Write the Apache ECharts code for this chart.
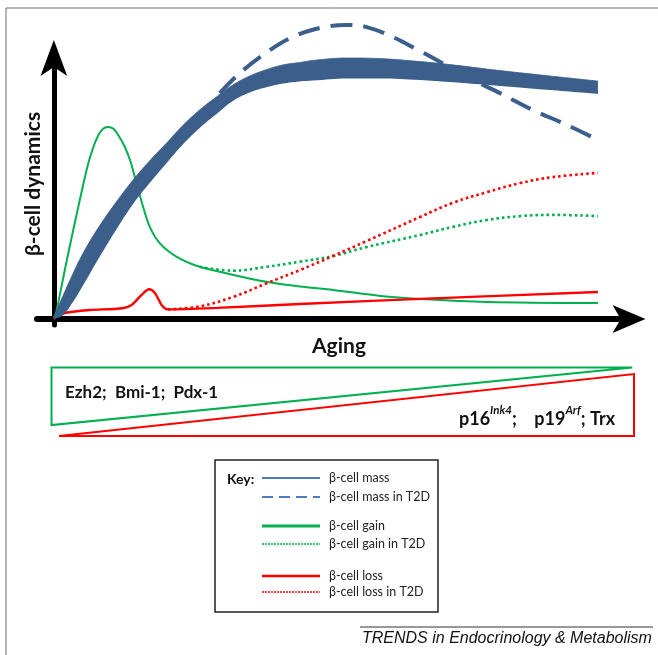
<!DOCTYPE html>
<html>
<head>
<meta charset="utf-8">
<script src="https://cdn.jsdelivr.net/npm/echarts@6/dist/echarts.min.js"></script>
<style>
  html, body { margin: 0; padding: 0; background: #fff; }
  #chart { width: 658px; height: 655px; }
</style>
</head>
<body>
<div id="chart"></div>
<script>
// Age runs from 0 (birth) to 100 (end of the sketched life span); dynamics are arbitrary units.

// beta-cell mass, drawn as a band between a lower and an upper edge
const massAge  = [0, 1.5, 2.9, 5.3, 8.5, 11.6, 14.5, 17.6, 20.8, 23.7, 26.8, 30, 32.9, 36, 39.2, 42.1, 45.2, 47.6, 53.9, 59.9, 67.3, 72.8, 82, 91.2, 100];
const massHigh = [0.7, 7, 12.7, 21.7, 31.3, 39.3, 46.2, 52.7, 58.8, 64.5, 69.7, 74.2, 78, 81, 83.2, 84.7, 85.5, 86.2, 87, 86.8, 85.8, 84.8, 82.8, 81, 79.3];
const massLow  = [0, 1, 4, 11, 21, 30.2, 38.2, 45.3, 52.2, 58.2, 63.7, 68.5, 72.7, 75.5, 77.3, 78.5, 79.2, 79.5, 80.2, 80.2, 79.7, 79, 77.7, 76.3, 75];

// beta-cell mass in type 2 diabetes
const massT2D = [[30.5, 75.3], [34.2, 82], [39.2, 89], [43.9, 94], [48.9, 97], [53.9, 98], [57.5, 97.3], [62.3, 94], [67.3, 89.3], [69.7, 87], [75.9, 80.7], [82, 75.3], [88, 69.7], [94.3, 64.7], [100, 59.7]];

// beta-cell gain (replication / neogenesis)
const betaGain = [[0, 0.5], [0.4, 2], [2.2, 18], [4.2, 35], [6.2, 51], [7.2, 57], [8.1, 61], [9, 63.3], [9.9, 64], [11, 63.3], [12.1, 60.5], [13, 57.5], [14, 53], [15.2, 45.2], [16.4, 37.4], [17.6, 30.8], [19.5, 25.2], [22.5, 20.8], [26.8, 17.4], [33, 14.7], [39.1, 12.4], [45.2, 10.8], [51.3, 9.7], [60, 7.7], [67.3, 6.7], [79.6, 5.7], [100, 5.3]];
const betaGainT2D = [[26.8, 17.4], [32.9, 16.1], [39.1, 17.4], [45.2, 19.1], [51.3, 21], [57.5, 24], [67.3, 28], [73.3, 30.7], [79.6, 33], [85.7, 34.3], [91.7, 34.7], [100, 34.3]];

// beta-cell loss (apoptosis)
const betaLoss = [[0, 0], [1, 1.5], [3.5, 2.4], [6.6, 3], [12.6, 3.6], [14.3, 4.7], [16.1, 8], [17.5, 9.9], [18.6, 8.6], [19.8, 4.7], [21, 3.2], [30, 3.7], [45.2, 5], [67.3, 6.7], [100, 9]];
const betaLossT2D = [[21, 3.2], [26.8, 4.2], [33, 7.4], [39.1, 11.9], [45.2, 16.3], [51.3, 21], [57.5, 26], [67.3, 34], [73.3, 38.7], [79.6, 42.3], [85.7, 45.3], [91.7, 47.3], [100, 48.7]];

// relative level of the regulators along the life span (outlined wedges under the plot)
const growthRegulators = [[50, 1], [99.7, 1], [0, 0.16], [0, 1], [50, 1]];
const senescenceRegulators = [[50, 0], [100, 0], [100, 0.905], [1.3, 0], [50, 0]];

const keyLabels = ['β-cell mass', 'β-cell mass in T2D', 'β-cell gain', 'β-cell gain in T2D', 'β-cell loss', 'β-cell loss in T2D'];

const BAND = '#3b5e8b';
const KEY_BLUE = '#4a7ebb';
const GREEN = '#00b050';
const RED = '#ff0000';
const CAL = 'Lato, "Open Sans", sans-serif';

// The band is a stacked pair; the value column comes first so that the stack
// is taken on the dynamics value and not on age.
const bandBase = massAge.map((a, i) => [massLow[i], a]);
const bandWidth = massAge.map((a, i) => [+(massHigh[i] - massLow[i]).toFixed(2), a]);

// key rows: [y, colour, width, dash]
const keyStyles = [
  [478, KEY_BLUE, 2, null],
  [497, KEY_BLUE, 2, [11, 6]],
  [526, GREEN, 3, null],
  [544, GREEN, 1.5, [2, 1]],
  [576, RED, 2.5, null],
  [592, RED, 1.5, [2, 1]]
];
const keyElements = [];
keyStyles.forEach((k, i) => {
  keyElements.push({
    type: 'line', shape: { x1: 262, y1: k[0], x2: 320, y2: k[0] },
    style: { stroke: k[1], lineWidth: k[2], lineDash: k[3] || null }
  });
  keyElements.push({
    type: 'text', x: 329, y: k[0],
    style: { text: keyLabels[i], font: '12.5px ' + CAL, fill: '#222', align: 'left', verticalAlign: 'middle', textAlign: 'left', textVerticalAlign: 'middle' }
  });
});

const chart = echarts.init(document.getElementById('chart'), null, { renderer: 'canvas' });

const hiddenAxis = { show: false };

chart.setOption({
  animation: false,
  backgroundColor: '#fff',
  grid: [
    { left: 37, right: 28.5, top: 58, bottom: 330 },
    { left: 51.5, right: 24, top: 367.5, bottom: 219 }
  ],
  xAxis: [
    {
      type: 'value', gridIndex: 0, min: -3.1, max: 105.8,
      axisLine: { onZero: true, symbol: ['none', 'arrow'], symbolSize: [21, 33], symbolOffset: [0, 16], lineStyle: { color: '#000', width: 6 } },
      axisTick: { show: false }, axisLabel: { show: false }, splitLine: { show: false }
    },
    Object.assign({ type: 'value', gridIndex: 1, min: 0, max: 100 }, hiddenAxis)
  ],
  yAxis: [
    {
      type: 'value', gridIndex: 0, min: -2, max: 87,
      axisLine: { onZero: true, symbol: ['none', 'arrow'], symbolSize: [20, 36], symbolOffset: [0, 18], lineStyle: { color: '#000', width: 5 } },
      axisTick: { show: false }, axisLabel: { show: false }, splitLine: { show: false }
    },
    Object.assign({ type: 'value', gridIndex: 1, min: 0, max: 1 }, hiddenAxis)
  ],
  series: [
    {
      name: 'β-cell gain', type: 'line', data: betaGain, smooth: 0.3, symbol: 'none', clip: false, z: 3,
      lineStyle: { color: GREEN, width: 2 }
    },
    {
      name: 'β-cell gain in T2D', type: 'line', data: betaGainT2D, smooth: 0.4, symbol: 'none', clip: false, z: 3,
      lineStyle: { color: GREEN, width: 2.6, type: [2.6, 3] }
    },
    {
      name: 'β-cell loss', type: 'line', data: betaLoss, smooth: 0.3, symbol: 'none', clip: false, z: 3,
      lineStyle: { color: RED, width: 2.4 }
    },
    {
      name: 'β-cell loss in T2D', type: 'line', data: betaLossT2D, smooth: 0.4, symbol: 'none', clip: false, z: 3,
      lineStyle: { color: RED, width: 2.6, type: [2.6, 3] }
    },
    {
      name: 'β-cell mass in T2D', type: 'line', data: massT2D, smooth: 0.4, symbol: 'none', clip: false, z: 4,
      lineStyle: { color: BAND, width: 4, type: [22, 11] }
    },
    {
      name: 'mass base', type: 'line', data: bandBase, encode: { x: 1, y: 0 }, stack: 'mass', smooth: 0.4, symbol: 'none', clip: false, z: 5,
      lineStyle: { opacity: 0 }
    },
    {
      name: 'β-cell mass', type: 'line', data: bandWidth, encode: { x: 1, y: 0 }, stack: 'mass', smooth: 0.4, symbol: 'none', clip: false, z: 5,
      lineStyle: { color: BAND, width: 0.8 },
      areaStyle: { color: BAND, opacity: 1 }
    },
    {
      name: 'Ezh2; Bmi-1; Pdx-1', type: 'line', xAxisIndex: 1, yAxisIndex: 1, data: growthRegulators,
      symbol: 'none', clip: false, lineStyle: { color: GREEN, width: 2, join: 'miter' }
    },
    {
      name: 'p16; p19; Trx', type: 'line', xAxisIndex: 1, yAxisIndex: 1, data: senescenceRegulators,
      symbol: 'none', clip: false, lineStyle: { color: RED, width: 2, join: 'miter' }
    }
  ],
  graphic: [
    {
      type: 'rect', z: -1, silent: true,
      shape: { x: 6, y: 8, width: 700, height: 700 },
      style: { fill: 'none', stroke: '#6b6b6b', lineWidth: 1 }
    },
    {
      type: 'text', x: 33, y: 184, rotation: Math.PI / 2,
      style: { text: 'β-cell dynamics', font: 'bold 21px ' + CAL, fill: '#111', align: 'center', verticalAlign: 'middle', textAlign: 'center', textVerticalAlign: 'middle' }
    },
    {
      type: 'text', x: 339, y: 346,
      style: { text: 'Aging', font: 'bold 21px ' + CAL, fill: '#111', align: 'center', verticalAlign: 'middle', textAlign: 'center', textVerticalAlign: 'middle' }
    },
    {
      type: 'text', x: 65, y: 393,
      style: { text: 'Ezh2;  Bmi-1;  Pdx-1', font: 'bold 17px ' + CAL, fill: '#111', align: 'left', verticalAlign: 'middle', textAlign: 'left', textVerticalAlign: 'middle' }
    },
    {
      type: 'text', x: 459, y: 416,
      style: {
        text: '{b|p16}{s|Ink4}{b|;    p19}{s|Arf}{b|; Trx}',
        align: 'left', verticalAlign: 'middle', textAlign: 'left', textVerticalAlign: 'middle',
        rich: {
          b: { font: 'bold 18px ' + CAL, fill: '#111', lineHeight: 24, verticalAlign: 'bottom' },
          s: { font: 'italic bold 11.5px ' + CAL, fill: '#111', lineHeight: 24, verticalAlign: 'top' }
        }
      }
    },
    {
      type: 'rect', shape: { x: 215, y: 460, width: 223, height: 152 },
      style: { fill: '#fff', stroke: '#222', lineWidth: 1.5 }
    },
    {
      type: 'text', x: 227, y: 479,
      style: { text: 'Key:', font: 'bold 14px ' + CAL, fill: '#111', align: 'left', verticalAlign: 'middle', textAlign: 'left', textVerticalAlign: 'middle' }
    },
    ...keyElements,
    {
      type: 'line', shape: { x1: 360, y1: 627, x2: 653, y2: 627 },
      style: { stroke: '#333', lineWidth: 1 }
    },
    {
      type: 'text', x: 362, y: 639,
      style: { text: 'TRENDS in Endocrinology & Metabolism', font: 'italic 16px "Liberation Sans", Arial, sans-serif', fill: '#111', align: 'left', verticalAlign: 'middle', textAlign: 'left', textVerticalAlign: 'middle' }
    }
  ]
});
</script>
</body>
</html>
